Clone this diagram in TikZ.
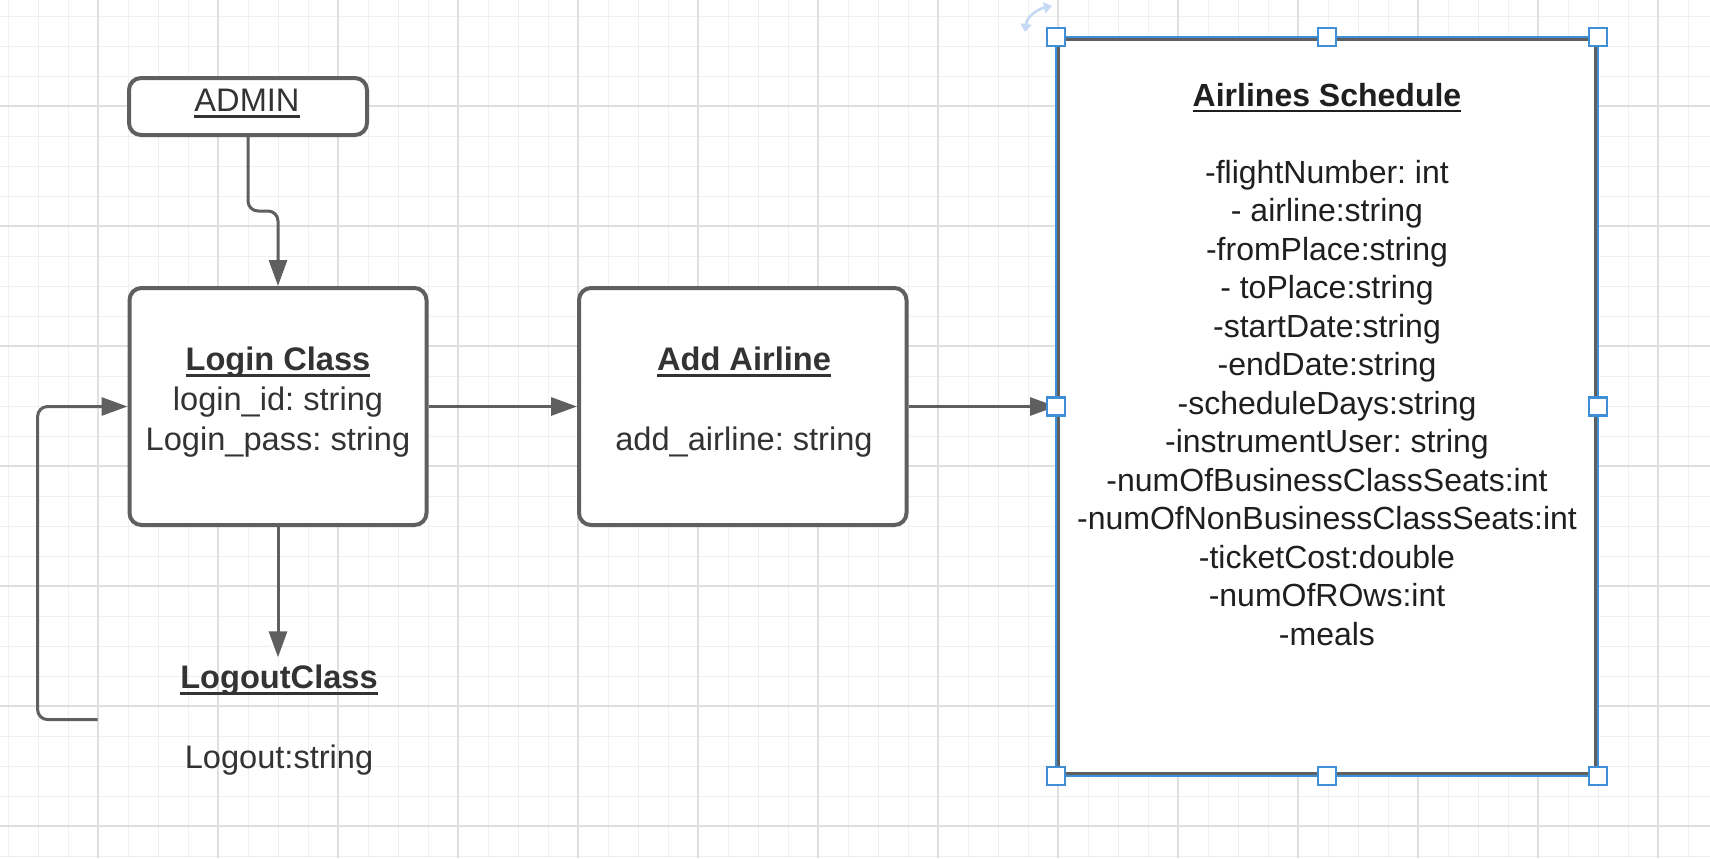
\documentclass[tikz,border=0pt]{standalone}
\usepackage{fontspec}
\setmainfont{Liberation Sans}
\usetikzlibrary{positioning,arrows.meta}
\frenchspacing

\definecolor{linegray}{HTML}{5F5F5F}
\definecolor{textgray}{HTML}{333333}
\definecolor{selblue}{HTML}{3F8FD6}
\definecolor{rotblue}{HTML}{C4DAF4}
\definecolor{gridminor}{HTML}{F0F0F0}
\definecolor{gridmajor}{HTML}{DFDFDF}

\newsavebox{\ulbox}
\newcommand{\ultitle}[1]{\sbox{\ulbox}{#1}\rlap{\rule[-0.2em]{\wd\ulbox}{0.08em}}\usebox{\ulbox}}

\begin{document}
\begin{tikzpicture}[x=0.5pt,y=-0.5pt,
  classbox/.style={draw=linegray,line width=2pt,fill=white,rounded corners=6pt,inner sep=0pt},
  classtext/.style={align=center,text=textgray,font=\fontsize{16.3}{20}\selectfont,anchor=base},
  link/.style={draw=linegray,line width=1.5pt,-{Triangle[length=13pt,width=9pt]}},
  handle/.style={draw=selblue,line width=1.1pt,fill=white,minimum size=9pt,inner sep=0pt}]
\fill[white] (0,0) rectangle (1710,858);
\useasboundingbox (0,0) rectangle (1710,858);
% grid
\foreach \i in {0,...,56} \draw[gridminor,line width=0.5pt] ({8.3+30*\i},0) -- ({8.3+30*\i},858);
\foreach \i in {0,...,28} \draw[gridminor,line width=0.5pt] (0,{16+30*\i}) -- (1710,{16+30*\i});
\foreach \i in {0,...,13} \draw[gridmajor,line width=0.6pt] ({98+120*\i},0) -- ({98+120*\i},858);
\foreach \i in {0,...,6} \draw[gridmajor,line width=0.6pt] (0,{106+120*\i}) -- (1710,{106+120*\i});

% classes (text anchored at the last baseline)
\node[classbox,minimum width=119pt,minimum height=28.5pt] (admin) at (248,106.5) {};
\node[classtext] (admintext) at (247,111) {\ultitle{ADMIN}};
\node[classbox,minimum width=148.5pt,minimum height=118.5pt] (login) at (278,406.5) {};
\node[classtext] (logintext) at (278,450) {\textbf{\ultitle{Login Class}}\\login\_id: string\\Login\_pass: string};
\node[classbox,minimum width=163.75pt,minimum height=118.5pt] (add) at (742.75,406.5) {};
\node[classtext] (addtext) at (744,450) {\textbf{\ultitle{Add Airline}}\\[20pt]add\_airline: string};
\node[classtext,minimum width=181pt] (logout) at (279,768) {\textbf{\ultitle{LogoutClass}}\\[20pt]Logout:string};
\node[draw=linegray,line width=2pt,fill=white,minimum width=269pt,minimum height=367.5pt,inner sep=0pt] (sched) at (1327,406.5) {};
\draw[selblue,line width=1.3pt] (sched.north west) rectangle (sched.south east);
\node[classtext,text=black!88,font=\fontsize{16}{19.25}\selectfont] (schedtext) at (1327,645) {\textbf{\ultitle{Airlines Schedule}}\\[19.25pt]
  -flightNumber: int\\- airline:string\\-fromPlace:string\\- toPlace:string\\-startDate:string\\-endDate:string\\
  -scheduleDays:string\\-instrumentUser: string\\-numOfBusinessClassSeats:int\\-numOfNonBusinessClassSeats:int\\
  -ticketCost:double\\-numOfROws:int\\-meals};

% connectors
\draw[link,rounded corners=5pt] (admin.south) -- ++(0,74) -| (login.north);
\draw[link] (login.east) -- (add.west);
\draw[link] (add.east) -- (sched.west);
\draw[link] (login.south) -- (login.south |- logout.north);
\draw[link,rounded corners=5pt] (logout.west) -- ++(-60,0) |- (login.west);

% selection handles
\foreach \a in {north west,north,north east,west,east,south west,south,south east}
  \node[handle] at (sched.\a) {};
\draw[rotblue,line width=1.3pt,{Triangle[length=4pt,width=5.5pt]}-{Triangle[length=4pt,width=5.5pt]}] (1025,32) .. controls (1027,16) and (1038,9) .. (1052,6);
\end{tikzpicture}
\end{document}
